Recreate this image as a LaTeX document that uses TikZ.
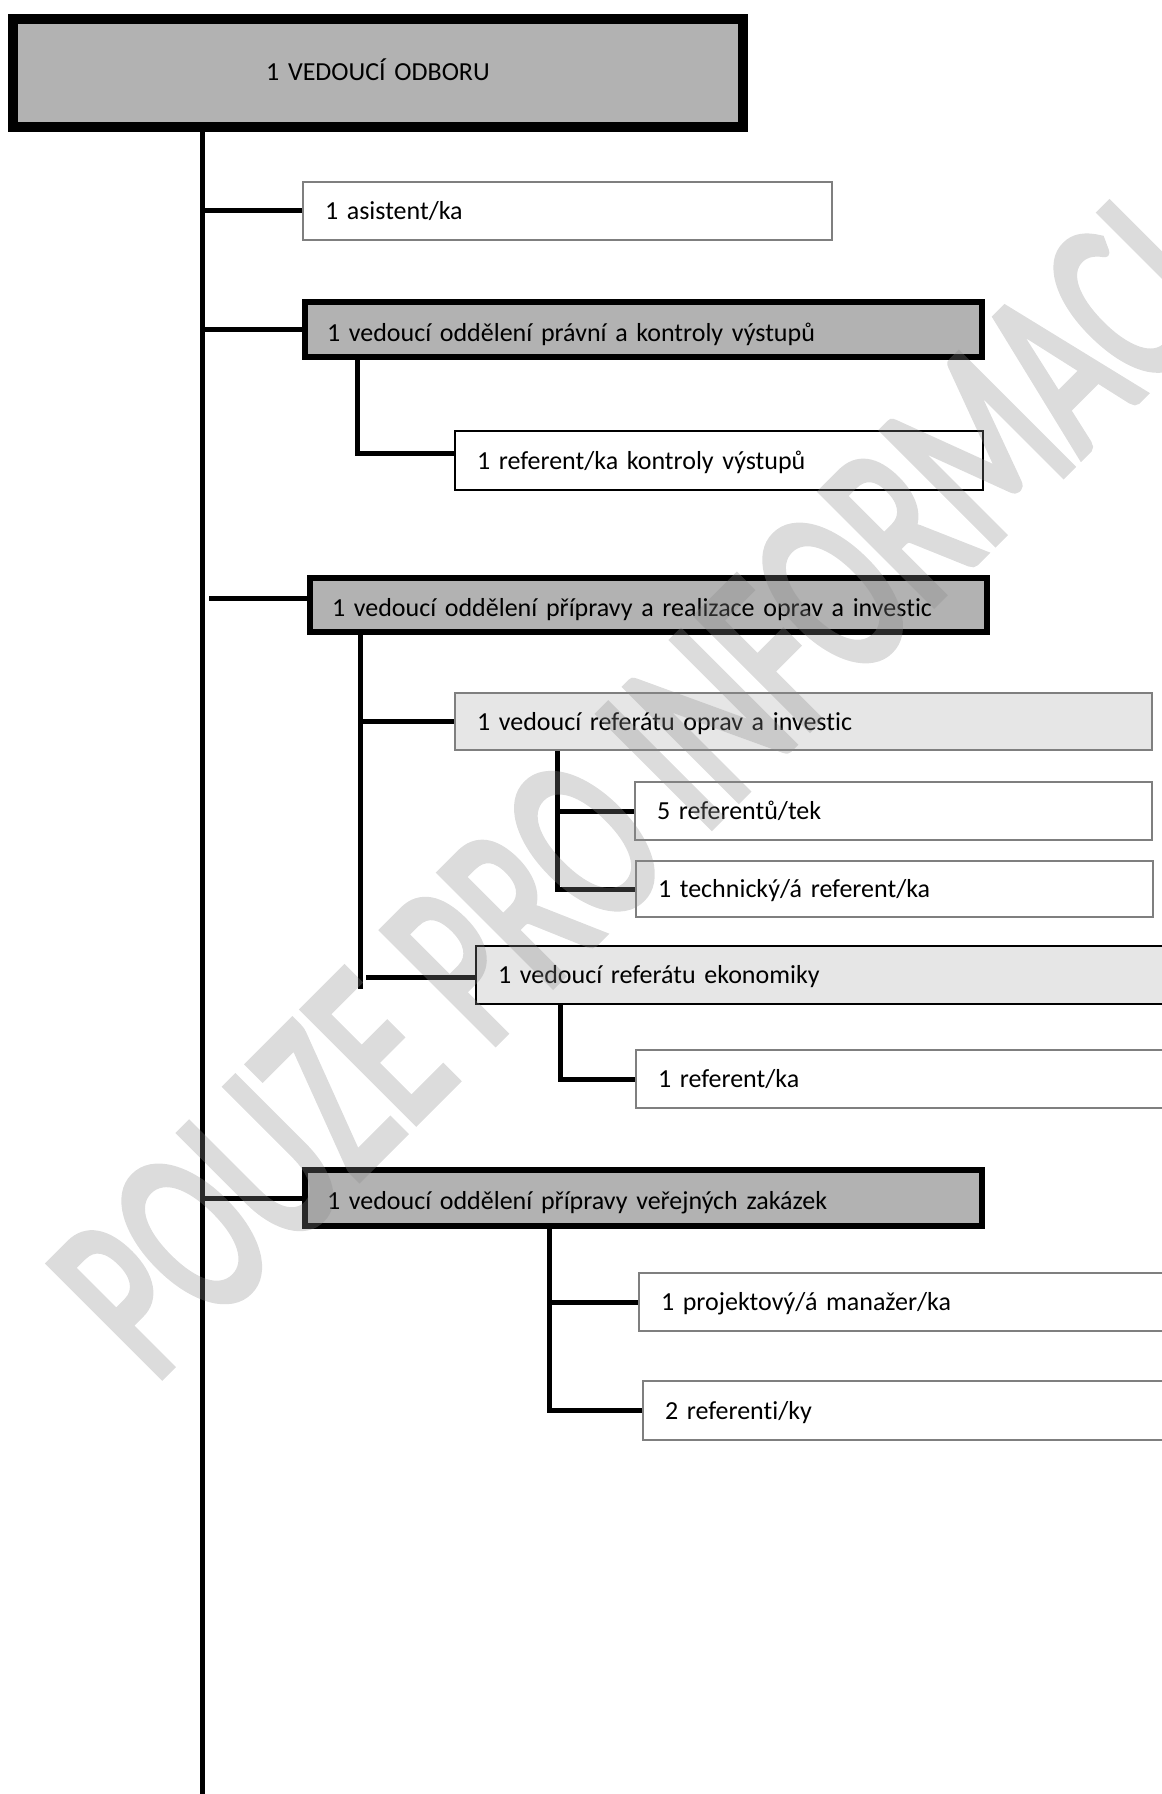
\documentclass[tikz,border=0pt]{standalone}
\usepackage{fontspec}
\setmainfont{Carlito}[Ligatures=NoCommon]
\newfontfamily\wmfont{Carlito}[Ligatures=NoCommon,FakeBold=3.5]
\usepackage{graphicx}
\definecolor{boxgray}{HTML}{B2B2B2}
\definecolor{lightbox}{HTML}{E6E6E6}
\definecolor{edgegray}{HTML}{7F7F7F}
\definecolor{wmgray}{HTML}{8A8A8A}
\newcommand\orgbox[7]{%
  \pgfmathsetmacro\obw{(#4-#2)*0.75}%
  \pgfmathsetmacro\obh{(#5-#3)*0.75}%
  \pgfmathsetmacro\obtw{(#4-#2)*0.75-33}%
  \node[#6, minimum width=\obw pt, minimum height=\obh pt, text width=\obtw pt] (#1) at ({(#2+#4)/2},{(#3+#5)/2}) {#7};}
\tikzset{
  orgnode/.style={rectangle, inner xsep=16.5pt, inner ysep=0pt, align=left, anchor=center,
    font=\fontsize{19.5pt}{23pt}\selectfont, text height=1.42em, text depth=0.12em},
  headbox/.style={orgnode, align=center, draw=black, fill=boxgray, line width=7.5pt,
    text height=1.55em, text depth=0.35em},
  deptbox/.style={orgnode, draw=black, fill=boxgray, line width=4.5pt,
    text height=1.9em, text depth=0.12em},
  leafbox/.style={orgnode, draw=edgegray, fill=white, line width=1.9pt},
  leafdark/.style={orgnode, draw=black, fill=white, line width=1.9pt},
  subbox/.style={orgnode, draw=edgegray, fill=lightbox, line width=1.9pt},
  subdark/.style={orgnode, draw=black, fill=lightbox, line width=1.9pt},
  conn/.style={line width=3.75pt, draw=black},
}
\begin{document}
\begin{tikzpicture}[x=0.75pt,y=-0.75pt]
\useasboundingbox (0,0) rectangle (1162,1794);
% free ends / vertical axes
\coordinate (spinebot) at (202,1800);
\coordinate (pvx) at (357,0);
\coordinate (rvbot) at (360,989);
\coordinate (ekstub) at (366,977);
\coordinate (realizstub) at (209,598);
\coordinate (tvx) at (557,0);
\coordinate (evx) at (560,0);
\coordinate (zvx) at (549,0);
% boxes
\orgbox{head}{13}{19}{743}{127}{headbox}{1 VEDOUCÍ ODBORU}
\orgbox{asist}{303}{182}{832}{240}{leafbox}{1 asistent/ka}
\orgbox{pravni}{305}{302}{982}{357}{deptbox}{1 vedoucí oddělení právní a kontroly výstupů}
\orgbox{refkon}{455}{431}{983}{490}{leafdark}{1 referent/ka kontroly výstupů}
\orgbox{realiz}{310}{578}{987}{632}{deptbox}{1 vedoucí oddělení přípravy a realizace oprav a investic}
\orgbox{refopr}{455}{693}{1152}{750}{subbox}{1 vedoucí referátu oprav a investic}
\orgbox{ref5}{635}{782}{1152}{840}{leafbox}{5 referentů/tek}
\orgbox{tech}{636}{861}{1153}{917}{leafbox}{1 technický/á referent/ka}
\orgbox{ekon}{476}{946}{1180}{1004}{subdark}{1 vedoucí referátu ekonomiky}
\orgbox{ref1}{636}{1050}{1180}{1108}{leafbox}{1 referent/ka}
\orgbox{zakaz}{305}{1170}{982}{1226}{deptbox}{1 vedoucí oddělení přípravy veřejných zakázek}
\orgbox{proj}{639}{1273}{1180}{1331}{leafbox}{1 projektový/á manažer/ka}
\orgbox{ref2}{643}{1381}{1180}{1440}{leafbox}{2 referenti/ky}
% connectors
\draw[conn] (head.south -| spinebot) -- (spinebot);
\draw[conn] (asist.west -| spinebot) -- (asist.west);
\draw[conn] (pravni.west -| spinebot) -- (pravni.west);
\draw[conn] (realizstub) -- (realizstub -| realiz.west);
\draw[conn] (zakaz.west -| spinebot) -- (zakaz.west);
\draw[conn] (pravni.south -| pvx) |- ([yshift=5.25pt]refkon.west);
\draw[conn] (realiz.south -| rvbot) -- (rvbot);
\draw[conn] (refopr.west -| rvbot) -- (refopr.west);
\draw[conn] (ekstub) -- (ekstub -| ekon.west);
\draw[conn] (refopr.south -| tvx) |- (tech.west);
\draw[conn] (ref5.west -| tvx) -- (ref5.west);
\draw[conn] (ekon.south -| evx) |- (ref1.west);
\draw[conn] (zakaz.south -| zvx) |- (ref2.west);
\draw[conn] (proj.west -| zvx) -- (proj.west);
% watermark
\begin{scope}[transparency group, opacity=0.3]
\node[rotate=45, anchor=base west, inner sep=0pt, text=wmgray] (wm) at (153,1384)
  {\scalebox{0.64}[1]{\wmfont\fontsize{184pt}{184pt}\selectfont POUZE PRO INFORMACI}};
\end{scope}
\end{tikzpicture}
\end{document}
